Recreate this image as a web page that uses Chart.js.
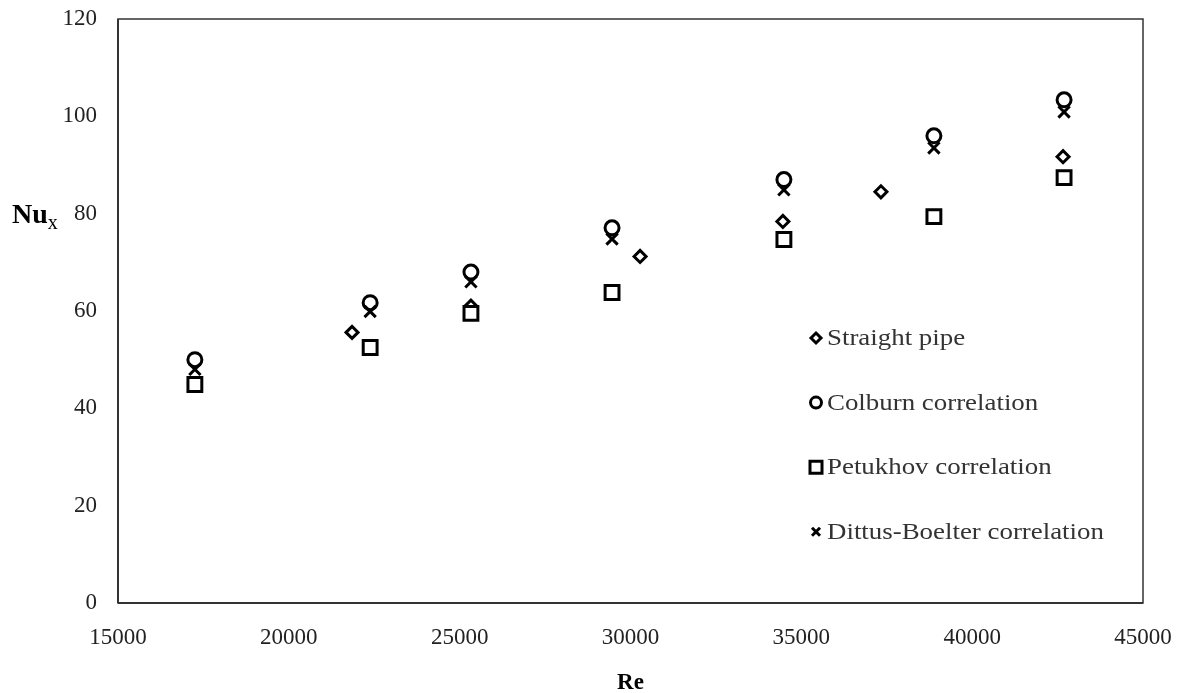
<!DOCTYPE html>
<html>
<head>
<meta charset="utf-8">
<script src="https://cdn.jsdelivr.net/npm/chart.js@4/dist/chart.umd.min.js"></script>
<style>
  body { margin: 0; background: #fff; }
</style>
</head>
<body>
<canvas id="nuChart" width="1181" height="693"></canvas>
<script>
// Nusselt number vs Reynolds number

const straightRe = [21850, 25330, 30280, 34460, 37330, 42660];
const straightNu = [55.6, 61.0, 71.2, 78.4, 84.5, 91.7];

const corrRe = [17250, 22380, 25330, 29460, 34490, 38880, 42690];
const colburnNu = [50.0, 61.7, 68.0, 77.1, 87.0, 96.0, 103.4];
const petukhovNu = [44.9, 52.5, 59.5, 63.8, 74.7, 79.4, 87.4];
const dittusNu = [48.0, 59.9, 66.0, 74.8, 84.9, 93.5, 100.9];

const xTicks = [15000, 20000, 25000, 30000, 35000, 40000, 45000];
const yTicks = [0, 20, 40, 60, 80, 100, 120];

const seriesNames = ['Straight pipe', 'Colburn correlation', 'Petukhov correlation', 'Dittus-Boelter correlation'];

function toPoints(xs, ys) {
    return xs.map((x, i) => ({ x: x, y: ys[i] }));
}

const tickFont = { family: '"Liberation Serif", "Times New Roman", serif', size: 23 };

// draw a marker like the ones on the chart (used for the legend)
function drawMarker(ctx, style, x, y) {
    ctx.save();
    ctx.strokeStyle = '#000';
    ctx.fillStyle = '#fff';
    ctx.lineWidth = 3;
    ctx.beginPath();
    if (style === 'rectRot') {
        ctx.moveTo(x, y - 5); ctx.lineTo(x + 5, y); ctx.lineTo(x, y + 5); ctx.lineTo(x - 5, y); ctx.closePath();
        ctx.fill(); ctx.stroke();
    } else if (style === 'circle') {
        ctx.arc(x, y, 5.5, 0, Math.PI * 2);
        ctx.fill(); ctx.stroke();
    } else if (style === 'rect') {
        ctx.rect(x - 6, y - 6, 12, 12);
        ctx.fill(); ctx.stroke();
    } else {
        ctx.moveTo(x - 4, y - 4); ctx.lineTo(x + 4, y + 4);
        ctx.moveTo(x + 4, y - 4); ctx.lineTo(x - 4, y + 4);
        ctx.stroke();
    }
    ctx.restore();
}

const framePlugin = {
    id: 'frame',
    afterDraw(chart) {
        const ctx = chart.ctx;
        const a = chart.chartArea;
        ctx.save();
        ctx.strokeStyle = '#333';
        ctx.lineWidth = 1.5;
        ctx.strokeRect(a.left, a.top, a.right - a.left, a.bottom - a.top);
        ctx.lineWidth = 2;
        ctx.beginPath();
        ctx.moveTo(a.left, a.bottom); ctx.lineTo(a.right, a.bottom);
        ctx.moveTo(a.left, a.top); ctx.lineTo(a.left, a.bottom);
        ctx.stroke();

        // y axis title Nu_x
        ctx.fillStyle = '#000';
        ctx.textBaseline = 'alphabetic';
        ctx.font = 'bold 28px "Liberation Serif", serif';
        ctx.fillText('Nu', 12, 223);
        const w = ctx.measureText('Nu').width;
        ctx.font = '20px "Liberation Serif", serif';
        ctx.fillText('x', 12 + w, 229);

        // legend inside the plot
        const styles = ['rectRot', 'circle', 'rect', 'crossRot'];
        ctx.font = '24px "Liberation Serif", serif';
        ctx.textBaseline = 'middle';
        seriesNames.forEach((name, i) => {
            const y = 338 + i * 64.6;
            drawMarker(ctx, styles[i], 816, y);
            ctx.fillStyle = '#333';
            ctx.save();
            ctx.translate(827, y + 1);
            ctx.scale(1.12, 1);
            ctx.fillText(name, 0, 0);
            ctx.restore();
        });
        ctx.restore();
    }
};

new Chart(document.getElementById('nuChart'), {
    type: 'scatter',
    data: {
        datasets: [
            {
                label: seriesNames[3],
                data: toPoints(corrRe, dittusNu),
                pointStyle: 'crossRot',
                radius: 8,
                borderColor: '#000',
                borderWidth: 3
            },
            {
                label: seriesNames[2],
                data: toPoints(corrRe, petukhovNu),
                pointStyle: 'rect',
                radius: 9.8,
                borderColor: '#000',
                backgroundColor: '#fff',
                borderWidth: 3
            },
            {
                label: seriesNames[1],
                data: toPoints(corrRe, colburnNu),
                pointStyle: 'circle',
                radius: 7,
                borderColor: '#000',
                backgroundColor: '#fff',
                borderWidth: 3
            },
            {
                label: seriesNames[0],
                data: toPoints(straightRe, straightNu),
                pointStyle: 'rectRot',
                radius: 6,
                borderColor: '#000',
                backgroundColor: '#fff',
                borderWidth: 3
            }
        ]
    },
    options: {
        responsive: false,
        animation: false,
        layout: {
            padding: { left: 0, right: 38, top: 19, bottom: 0 }
        },
        plugins: {
            legend: { display: false },
            tooltip: { enabled: false }
        },
        scales: {
            x: {
                type: 'linear',
                min: 15000,
                max: 45000,
                afterBuildTicks: (scale) => { scale.ticks = xTicks.map(v => ({ value: v })); },
                afterFit: (scale) => {
                    scale.height = 90;
                    scale.paddingLeft = 0;
                    scale.paddingRight = 0;
                },
                grid: { display: false, drawTicks: false },
                border: { display: false },
                ticks: {
                    font: tickFont,
                    color: '#222',
                    padding: 21,
                    maxRotation: 0,
                    callback: (v) => String(v)
                },
                title: {
                    display: true,
                    text: 'Re',
                    color: '#000',
                    font: { family: '"Liberation Serif", serif', size: 23, weight: 'bold', lineHeight: 0.9 },
                    padding: { top: 0, bottom: 0 }
                }
            },
            y: {
                type: 'linear',
                min: 0,
                max: 120,
                afterBuildTicks: (scale) => { scale.ticks = yTicks.map(v => ({ value: v })); },
                afterFit: (scale) => {
                    scale.width = 118;
                    scale.paddingTop = 0;
                    scale.paddingBottom = 0;
                },
                grid: { display: false, drawTicks: false },
                border: { display: false },
                ticks: {
                    font: tickFont,
                    color: '#222',
                    padding: 21
                }
            }
        }
    },
    plugins: [framePlugin]
});
</script>
</body>
</html>
